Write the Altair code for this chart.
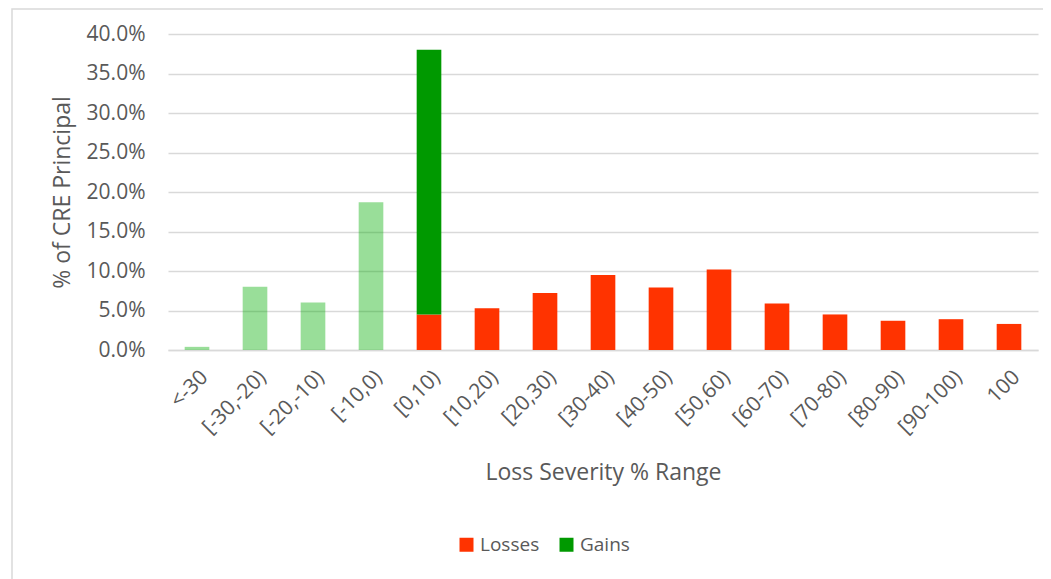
import altair as alt
import pandas as pd

categories = ["<-30", "[-30,-20)", "[-20,-10)", "[-10,0)", "[0,10)", "[10,20)", "[20,30)",
              "[30-40)", "[40-50)", "[50,60)", "[60-70)", "[70-80)", "[80-90)", "[90-100)", "100"]
losses = [0, 0, 0, 0, 4.5, 5.3, 7.2, 9.5, 7.9, 10.2, 5.9, 4.5, 3.7, 3.9, 3.3]
gains = [0, 0, 0, 0, 33.5, 0, 0, 0, 0, 0, 0, 0, 0, 0, 0]
gains_light = [0.4, 8.0, 6.0, 18.7, 0, 0, 0, 0, 0, 0, 0, 0, 0, 0, 0]

rows = []
for c, l, g, gl in zip(categories, losses, gains, gains_light):
    if l:
        rows.append({"cat": c, "series": "Losses", "value": l, "ord": 0})
    if g:
        rows.append({"cat": c, "series": "Gains", "value": g, "ord": 1})
    if gl:
        rows.append({"cat": c, "series": "GainsLight", "value": gl, "ord": 2})
df = pd.DataFrame(rows)

TXT = "#595959"
FONT = "Open Sans"

bars = alt.Chart(df).mark_bar().encode(
    x=alt.X("cat:N", sort=categories,
            scale=alt.Scale(paddingInner=0.575, paddingOuter=0.2875),
            axis=alt.Axis(title="Loss Severity % Range", labelAngle=-45, labelFontSize=21,
                          labelColor=TXT, labelFont=FONT, labelPadding=16, ticks=False,
                          tickSize=0, domainColor="#D9D9D9", domainWidth=1.5,
                          titleFontSize=23, titleFont=FONT, titleColor=TXT,
                          titleFontWeight="normal", titleY=122, titleBaseline="middle")),
    y=alt.Y("value:Q", stack="zero",
            scale=alt.Scale(domain=[0, 40]),
            axis=alt.Axis(title="% of CRE Principal", values=[0, 5, 10, 15, 20, 25, 30, 35, 40],
                          labelExpr="format(datum.value, '.1f') + '%'",
                          labelFontSize=21, labelColor=TXT, labelFont=FONT, labelPadding=23,
                          ticks=False, tickSize=0, domain=False,
                          gridColor="#D9D9D9", gridWidth=1.5,
                          titleFontSize=23, titleFont=FONT, titleColor=TXT,
                          titleFontWeight="normal", titleX=-106, titleY=158,
                          titleBaseline="middle")),
    color=alt.Color("series:N",
                    scale=alt.Scale(domain=["Losses", "Gains", "GainsLight"],
                                    range=["#FF3300", "#009900", "#00AC00"]),
                    legend=alt.Legend(title=None, values=["Losses", "Gains"], orient="none",
                                      legendX=289, legendY=501, direction="horizontal",
                                      symbolType="square", symbolSize=196, symbolStrokeWidth=0,
                                      labelFontSize=19, labelFont=FONT, labelColor=TXT,
                                      labelOffset=4, columnPadding=17, padding=0)),
    opacity=alt.condition(alt.datum.series == "GainsLight", alt.value(0.4), alt.value(1.0)),
    order=alt.Order("ord:Q"),
)

border = alt.Chart(alt.Data(values=[{"a": 1}])).mark_rect(
    fill="transparent", stroke="#D9D9D9", strokeWidth=1.5, clip=False
).encode(
    x=alt.value(-156), x2=alt.value(950), y=alt.value(-25), y2=alt.value(700)
)

chart = alt.layer(border, bars).properties(
    width=870, height=316,
    background="white",
    autosize=alt.AutoSizeParams(type="none"),
    padding={"left": 160, "top": 26, "right": 5, "bottom": 229},
).configure_view(strokeWidth=0, stroke="transparent")

chart.save("out.html", embed_options={"renderer": "svg", "actions": False})
